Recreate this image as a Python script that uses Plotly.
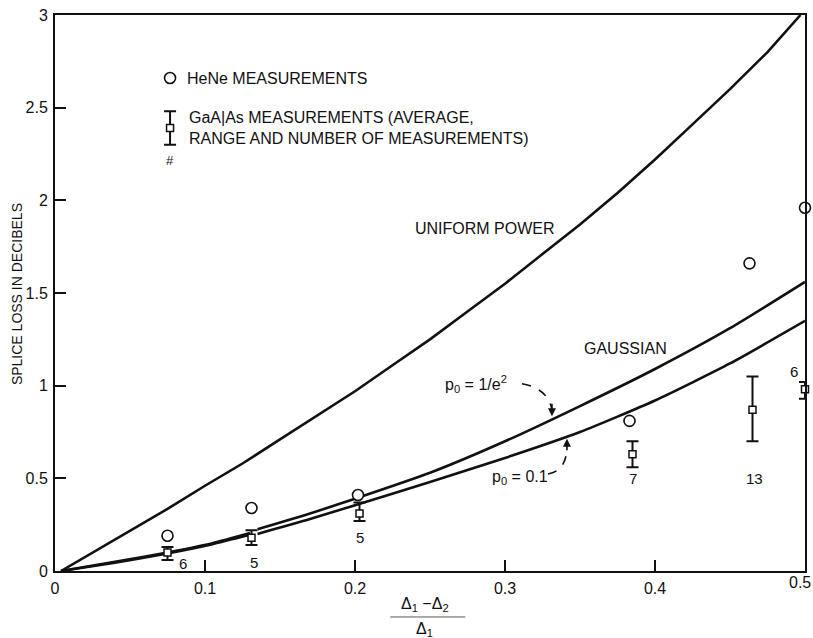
import plotly.graph_objects as go

# ---------------- data ----------------
uniform_x = [0.004, 0.025, 0.05, 0.075, 0.1, 0.125, 0.15, 0.175, 0.2, 0.225, 0.25, 0.275,
             0.3, 0.325, 0.35, 0.375, 0.4, 0.425, 0.45, 0.475, 0.497]
uniform_y = [0.0, 0.10, 0.215, 0.335, 0.46, 0.58, 0.71, 0.84, 0.97, 1.11, 1.25, 1.40,
             1.55, 1.71, 1.87, 2.04, 2.22, 2.41, 2.60, 2.80, 3.0]

gauss_e2_x = [0.004, 0.04, 0.075, 0.105, 0.13, None, 0.135, 0.17, 0.2, 0.25, 0.3, 0.35, 0.4, 0.45, 0.5]
gauss_e2_y = [0.0, 0.05, 0.10, 0.15, 0.205, None, 0.225, 0.31, 0.39, 0.53, 0.70, 0.89, 1.09, 1.31, 1.56]

gauss_01_x = [0.004, 0.04, 0.075, 0.105, 0.13, None, 0.135, 0.17, 0.2, 0.25, 0.3, 0.35, 0.4, 0.45, 0.5]
gauss_01_y = [0.0, 0.045, 0.095, 0.145, 0.195, None, 0.20, 0.28, 0.355, 0.48, 0.61, 0.75, 0.92, 1.12, 1.35]

hene_x = [0.075, 0.131, 0.202, 0.383, 0.463, 0.5]
hene_y = [0.19, 0.34, 0.41, 0.81, 1.66, 1.96]

gaalas_x = [0.075, 0.131, 0.203, 0.385, 0.465, 0.5]
gaalas_avg = [0.10, 0.18, 0.31, 0.63, 0.87, 0.98]
gaalas_hi = [0.13, 0.22, 0.37, 0.70, 1.05, 1.02]
gaalas_lo = [0.06, 0.14, 0.27, 0.56, 0.70, 0.93]
gaalas_n = ["6", "5", "5", "7", "13", "6"]

x_ticks = [0, 0.1, 0.2, 0.3, 0.4, 0.5]
x_ticklabels = ["0", "0.1", "0.2", "0.3", "0.4", "0.5"]
y_ticks = [0, 0.5, 1, 1.5, 2, 2.5, 3]
y_ticklabels = ["0", "0.5", "1", "1.5", "2", "2.5", "3"]

# ---------------- styling / layout ----------------
FONT = "Liberation Sans, Arial, Helvetica, sans-serif"
BLACK = "#111111"

# pixel offsets of the count labels relative to the lower end of each error bar
label_shift = [(15, -4), (2, -17), (0, -17), (0, -11), (2, -37), (-11, 27)]

fig = go.Figure()

curve_style = dict(color=BLACK, width=2.6, shape="spline", smoothing=0.6)
fig.add_trace(go.Scatter(x=uniform_x, y=uniform_y, mode="lines",
                         line=dict(color=BLACK, width=2.6, shape="linear"),
                         hoverinfo="skip", cliponaxis=False))
fig.add_trace(go.Scatter(x=gauss_e2_x, y=gauss_e2_y, mode="lines", line=curve_style,
                         connectgaps=False, hoverinfo="skip"))
fig.add_trace(go.Scatter(x=gauss_01_x, y=gauss_01_y, mode="lines", line=curve_style,
                         connectgaps=False, hoverinfo="skip"))

# HeNe measurements
fig.add_trace(go.Scatter(x=hene_x, y=hene_y, mode="markers", cliponaxis=False,
                         marker=dict(symbol="circle", size=11, color="white",
                                     line=dict(color=BLACK, width=1.6))))

# GaAlAs measurements
fig.add_trace(go.Scatter(
    x=gaalas_x, y=gaalas_avg, mode="markers", cliponaxis=False,
    marker=dict(symbol="square", size=7, color="white", line=dict(color=BLACK, width=1.5)),
    error_y=dict(type="data", symmetric=False,
                 array=[h - a for h, a in zip(gaalas_hi, gaalas_avg)],
                 arrayminus=[a - l for a, l in zip(gaalas_avg, gaalas_lo)],
                 color=BLACK, thickness=2, width=6)))

# count labels
for xv, lo, n, (dx, dy) in zip(gaalas_x, gaalas_lo, gaalas_n, label_shift):
    fig.add_annotation(x=xv, y=lo, text=n, showarrow=False, xshift=dx, yshift=dy,
                       xanchor="center", yanchor="middle",
                       font=dict(family=FONT, size=15, color=BLACK))

# ---------------- legend (drawn in the plot) ----------------
leg_x = 0.0767
fig.add_trace(go.Scatter(x=[leg_x], y=[2.66], mode="markers", hoverinfo="skip",
                         marker=dict(symbol="circle", size=11, color="white",
                                     line=dict(color=BLACK, width=1.6))))
fig.add_trace(go.Scatter(x=[leg_x], y=[2.39], mode="markers", hoverinfo="skip",
                         marker=dict(symbol="square", size=7, color="white",
                                     line=dict(color=BLACK, width=1.5)),
                         error_y=dict(type="data", symmetric=False, array=[0.09],
                                      arrayminus=[0.09], color=BLACK, thickness=2, width=6)))
fig.add_annotation(x=leg_x, y=2.215, text="#", showarrow=False, xanchor="center", yanchor="middle",
                   font=dict(family=FONT, size=13, color=BLACK))
fig.add_annotation(x=0.0867, y=2.66, text="HeNe MEASUREMENTS", showarrow=False,
                   xanchor="left", yanchor="middle", font=dict(family=FONT, size=16, color=BLACK))
fig.add_annotation(x=0.088, y=2.39, text="GaA|As MEASUREMENTS (AVERAGE,<br>RANGE AND NUMBER OF MEASUREMENTS)",
                   showarrow=False, xanchor="left", yanchor="middle", align="left",
                   font=dict(family=FONT, size=16, color=BLACK))

# curve labels
fig.add_annotation(x=0.2387, y=1.846, text="UNIFORM POWER", showarrow=False, xanchor="left",
                   yanchor="middle", font=dict(family=FONT, size=16, color=BLACK))
fig.add_annotation(x=0.3513, y=1.198, text="GAUSSIAN", showarrow=False, xanchor="left",
                   yanchor="middle", font=dict(family=FONT, size=16, color=BLACK))
fig.add_annotation(x=0.2587, y=1.01, text="p<sub>0</sub> = 1/e<sup>2</sup>", showarrow=False,
                   xanchor="left", yanchor="middle", font=dict(family=FONT, size=16, color=BLACK))
fig.add_annotation(x=0.29, y=0.507, text="p<sub>0</sub> = 0.1", showarrow=False,
                   xanchor="left", yanchor="middle", font=dict(family=FONT, size=16, color=BLACK))

# dashed curved pointers
fig.add_shape(type="path", path="M 0.3113,1.01 Q 0.3287,0.985 0.3313,0.87",
              line=dict(color=BLACK, width=1.6, dash="dash"))
fig.add_annotation(x=0.3313, y=0.835, ax=0, ay=-14, showarrow=True, arrowhead=2,
                   arrowsize=1, arrowwidth=1.6, arrowcolor=BLACK, text="")
fig.add_shape(type="path", path="M 0.3287,0.523 Q 0.3407,0.54 0.3413,0.664",
              line=dict(color=BLACK, width=1.6, dash="dash"))
fig.add_annotation(x=0.3413, y=0.714, ax=0, ay=13, showarrow=True, arrowhead=2,
                   arrowsize=1, arrowwidth=1.6, arrowcolor=BLACK, text="")

# axis titles
fig.add_annotation(xref="paper", yref="paper", x=-0.0507, y=0.498, text="SPLICE LOSS IN DECIBELS",
                   textangle=-90, showarrow=False, xanchor="center", yanchor="middle",
                   font=dict(family=FONT, size=14, color=BLACK))
fig.add_annotation(xref="paper", yref="paper", x=0.493, y=-0.0594, text="Δ<sub>1</sub> −Δ<sub>2</sub>",
                   showarrow=False, xanchor="center", yanchor="middle",
                   font=dict(family=FONT, size=16, color=BLACK))
fig.add_shape(type="line", xref="paper", yref="paper", x0=0.447, x1=0.547, y0=-0.0827, y1=-0.0827,
              line=dict(color="#555555", width=1))
fig.add_annotation(xref="paper", yref="paper", x=0.493, y=-0.106, text="Δ<sub>1</sub>",
                   showarrow=False, xanchor="center", yanchor="middle",
                   font=dict(family=FONT, size=16, color=BLACK))

# last x tick label sits flush with the right edge (as in the reference)
x_tick_shown = x_ticklabels[:-1] + [""]
fig.add_annotation(xref="paper", yref="paper", x=1, y=0, xshift=8, yshift=-1,
                   xanchor="right", yanchor="top", text=x_ticklabels[-1], showarrow=False,
                   font=dict(family=FONT, size=16, color=BLACK))

axis_common = dict(showline=True, linecolor=BLACK, linewidth=2, mirror=True,
                   showgrid=False, zeroline=False, ticks="inside", ticklen=11,
                   tickwidth=1.6, tickcolor=BLACK, ticklabeloverflow="allow",
                   automargin=False,
                   tickfont=dict(family=FONT, size=16, color=BLACK))

fig.update_layout(
    width=813, height=638, showlegend=False,
    paper_bgcolor="white", plot_bgcolor="white",
    margin=dict(l=55, r=8, t=15, b=67, autoexpand=False),
    xaxis=dict(range=[0, 0.5], tickvals=x_ticks, ticktext=x_tick_shown, ticklabelstandoff=2, **axis_common),
    yaxis=dict(range=[0, 3], tickvals=y_ticks, ticktext=y_ticklabels, ticklabelstandoff=2, **axis_common),
)

fig.write_html("out.html", config={"displayModeBar": False},
               post_script="document.body.style.margin='0px';document.body.style.overflow='hidden';")
